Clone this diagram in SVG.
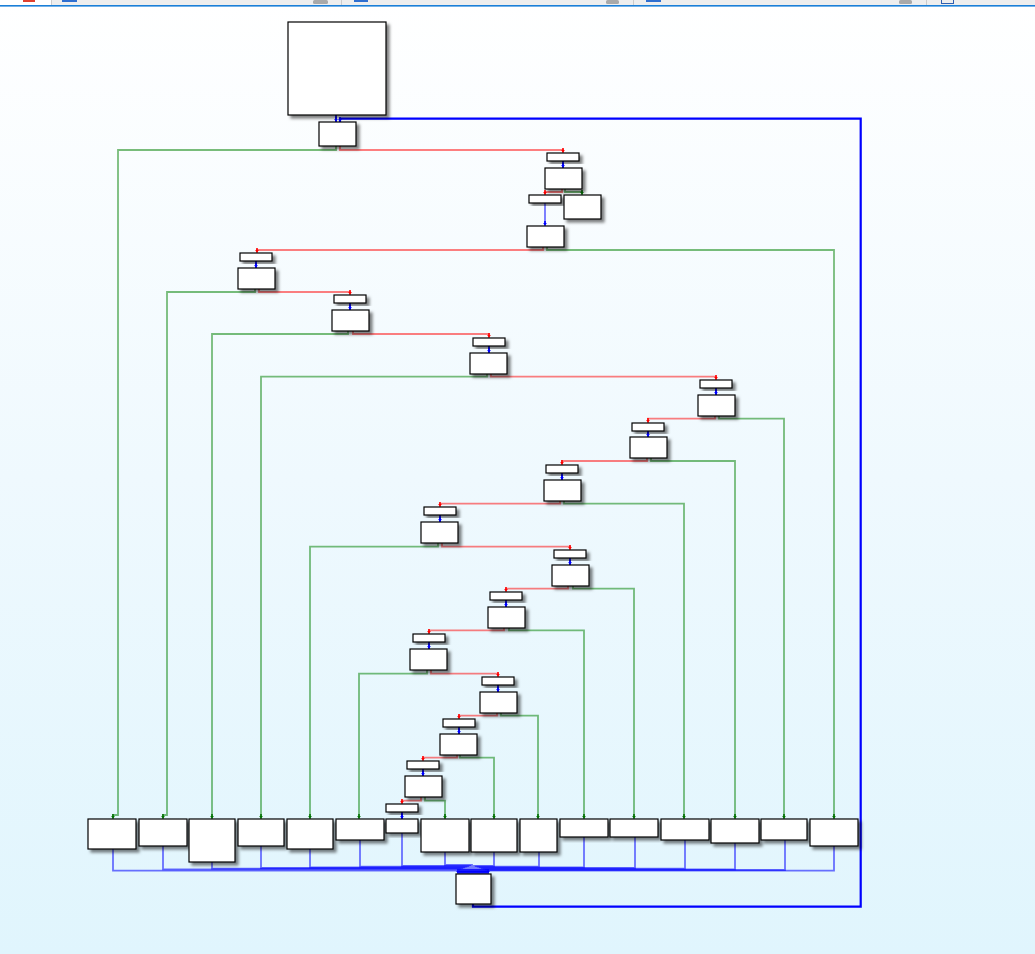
<svg xmlns="http://www.w3.org/2000/svg" width="1035" height="954" viewBox="0 0 1035 954">
<style>
.n{fill:#fff;stroke:#000;stroke-width:1.2;filter:url(#sh)}
.e{fill:none;stroke-width:1.8;stroke-linejoin:miter}
.g{stroke:#008000;stroke-opacity:0.52;marker-end:url(#ag)}
.r{stroke:#ff0000;stroke-opacity:0.5;marker-end:url(#ar)}
.b{stroke:#0000ff;stroke-opacity:0.55;marker-end:url(#ab)}
.bs{stroke:#0000ff;marker-end:url(#ab)}
.loop{stroke:#0000ff;stroke-width:2.2;marker-end:url(#ab)}
</style>
<defs>
<linearGradient id="bg" x1="0" y1="0" x2="0" y2="1">
<stop offset="0" stop-color="#ffffff"/>
<stop offset="0.5" stop-color="#eff9fe"/>
<stop offset="1" stop-color="#e0f5fd"/>
</linearGradient>
<filter id="sh" x="-20%" y="-20%" width="150%" height="150%">
<feDropShadow dx="3" dy="3" stdDeviation="1.5" flood-color="#000" flood-opacity="0.5"/>
</filter>
<marker id="ag" markerUnits="userSpaceOnUse" viewBox="-6 -3 7 6" refX="0" refY="0" markerWidth="7" markerHeight="6" orient="auto" overflow="visible"><path d="M-5,-0.8 H-3 V-1.8 L0,0 L-3,1.8 V0.8 H-5 Z" fill="#007000"/></marker>
<marker id="ar" markerUnits="userSpaceOnUse" viewBox="-6 -3 7 6" refX="0" refY="0" markerWidth="7" markerHeight="6" orient="auto" overflow="visible"><path d="M-5,-0.8 H-3 V-1.8 L0,0 L-3,1.8 V0.8 H-5 Z" fill="#ff0000"/></marker>
<marker id="ab" markerUnits="userSpaceOnUse" viewBox="-6 -3 7 6" refX="0" refY="0" markerWidth="7" markerHeight="6" orient="auto" overflow="visible"><path d="M-5,-0.8 H-3 V-1.8 L0,0 L-3,1.8 V0.8 H-5 Z" fill="#0000ff"/></marker>
</defs>
<rect x="0" y="0" width="1035" height="954" fill="url(#bg)"/>
<g id="tabbar">
<rect x="0" y="0" width="1035" height="5.5" fill="#eeeeee"/>
<rect x="0" y="0" width="51" height="5.5" fill="#ffffff"/>
<rect x="0" y="5" width="1035" height="1.6" fill="#1a7fd8"/>
<rect x="51" y="0" width="1" height="5" fill="#cccccc"/>
<rect x="341" y="0" width="1" height="5" fill="#cccccc"/>
<rect x="633" y="0" width="1" height="5" fill="#cccccc"/>
<rect x="926" y="0" width="1" height="5" fill="#cccccc"/>
<rect x="23" y="0" width="12" height="2" fill="#e0402f"/>
<rect x="62" y="0" width="15" height="2" fill="#2f6fd0"/>
<rect x="354" y="0" width="14" height="2" fill="#2f6fd0"/>
<rect x="646" y="0" width="15" height="2" fill="#2f6fd0"/>
<rect x="313" y="0" width="15" height="4" rx="1.5" fill="#a9a9a9"/>
<rect x="606" y="0" width="13" height="4" rx="1.5" fill="#a9a9a9"/>
<rect x="899" y="0" width="13" height="4" rx="1.5" fill="#a9a9a9"/>
<rect x="941.5" y="-1" width="12" height="4.5" fill="none" stroke="#2f5fb0" stroke-width="1"/>
</g>
<g id="connectors">
<path class="e bs" d="M336,115 V122"/>
<path class="e loop" d="M473,904 V906.7 H860.7 V118.7 H340 V122"/>
<path class="e g" d="M336,146 V150 H118 V815 H113 V819"/>
<path class="e r" d="M340,146 V150 H563 V153"/>
<path class="e g" d="M565,189 V192 H582 V195"/>
<path class="e r" d="M562,189 V192 H545 V195"/>
<path class="e g" d="M547,247 V250 H834 V819"/>
<path class="e r" d="M543,247 V250 H257 V253"/>
<path class="e g" d="M255,289 V292 H167 V815 H163 V819"/>
<path class="e r" d="M259,289 V292 H350 V295"/>
<path class="e g" d="M348,331 V334 H212 V819"/>
<path class="e r" d="M353,331 V334 H489 V338"/>
<path class="e g" d="M487,374 V376.7 H261 V819"/>
<path class="e r" d="M491,374 V376.7 H716 V380"/>
<path class="e g" d="M719,416 V418.7 H784 V819"/>
<path class="e r" d="M715,416 V418.7 H648 V423"/>
<path class="e g" d="M651,458 V461 H735 V819"/>
<path class="e r" d="M647,458 V461 H562 V465"/>
<path class="e g" d="M564,501 V503.7 H684 V819"/>
<path class="e r" d="M560,501 V503.7 H440 V507"/>
<path class="e g" d="M438,543 V546.7 H310 V819"/>
<path class="e r" d="M442,543 V546.7 H570 V550"/>
<path class="e g" d="M573,586 V588.7 H634 V819"/>
<path class="e r" d="M568,586 V588.7 H506 V592"/>
<path class="e g" d="M509,628 V630.3 H584 V819"/>
<path class="e r" d="M504,628 V630.3 H429 V634"/>
<path class="e g" d="M427,670 V673.7 H359 V819"/>
<path class="e r" d="M431,670 V673.7 H498 V677"/>
<path class="e g" d="M501,713 V715.7 H538 V819"/>
<path class="e r" d="M497,713 V715.7 H459 V719"/>
<path class="e g" d="M460,755 V757.7 H494 V819"/>
<path class="e r" d="M457,755 V757.7 H423 V761"/>
<path class="e g" d="M425,797 V800.7 H445 V819"/>
<path class="e r" d="M421,797 V800.7 H402 V804"/>
<path class="e bs" d="M563,161 V168"/>
<path class="e b" d="M545,203 V226"/>
<path class="e bs" d="M256,261 V268"/>
<path class="e bs" d="M350,303 V310"/>
<path class="e bs" d="M489,346 V353"/>
<path class="e bs" d="M716,388 V395"/>
<path class="e bs" d="M648,431 V437"/>
<path class="e bs" d="M562,473 V480"/>
<path class="e bs" d="M440,515 V522"/>
<path class="e bs" d="M570,558 V565"/>
<path class="e bs" d="M506,600 V607"/>
<path class="e bs" d="M429,642 V649"/>
<path class="e bs" d="M498,685 V692"/>
<path class="e bs" d="M459,727 V734"/>
<path class="e bs" d="M423,769 V776"/>
<path class="e bs" d="M402,812 V819"/>
<path class="e b" d="M113,849 V870.7 H458 V874"/>
<path class="e b" d="M163,846 V869.3 H460 V874"/>
<path class="e b" d="M212,862 V868.7 H462 V874"/>
<path class="e b" d="M261,846 V868 H464 V874"/>
<path class="e b" d="M310,849 V867.3 H466 V874"/>
<path class="e b" d="M360,840 V866.7 H468 V874"/>
<path class="e b" d="M402,833 V866 H470 V874"/>
<path class="e b" d="M445,852 V865 H472 V874"/>
<path class="e b" d="M494,852 V866 H474 V874"/>
<path class="e b" d="M539,852 V866.7 H476 V874"/>
<path class="e b" d="M584,837 V867.3 H478 V874"/>
<path class="e b" d="M635,837 V868 H480 V874"/>
<path class="e b" d="M685,840 V868.7 H482 V874"/>
<path class="e b" d="M735,843 V869.3 H484 V874"/>
<path class="e b" d="M785,840 V870 H486 V874"/>
<path class="e b" d="M834,846 V870.7 H488 V874"/>
</g>
<g id="n1"><rect class="n" x="288" y="22" width="98" height="93"/></g>
<g id="n2"><rect class="n" x="319" y="122" width="37" height="24"/></g>
<g id="sa"><rect class="n" x="547" y="153" width="32" height="8"/></g>
<g id="ma"><rect class="n" x="545" y="168" width="37" height="21"/></g>
<g id="sb"><rect class="n" x="529" y="195" width="32" height="8"/></g>
<g id="rb"><rect class="n" x="564" y="195" width="37" height="24"/></g>
<g id="mb"><rect class="n" x="527" y="226" width="37" height="21"/></g>
<g id="sc"><rect class="n" x="240" y="253" width="32" height="8"/></g>
<g id="mc"><rect class="n" x="238" y="268" width="37" height="21"/></g>
<g id="sd"><rect class="n" x="334" y="295" width="32" height="8"/></g>
<g id="md"><rect class="n" x="332" y="310" width="37" height="21"/></g>
<g id="se"><rect class="n" x="473" y="338" width="32" height="8"/></g>
<g id="me"><rect class="n" x="470" y="353" width="37" height="21"/></g>
<g id="sf"><rect class="n" x="700" y="380" width="32" height="8"/></g>
<g id="mf"><rect class="n" x="698" y="395" width="37" height="21"/></g>
<g id="sg"><rect class="n" x="632" y="423" width="32" height="8"/></g>
<g id="mg"><rect class="n" x="630" y="437" width="37" height="21"/></g>
<g id="sh1"><rect class="n" x="546" y="465" width="32" height="8"/></g>
<g id="mh"><rect class="n" x="544" y="480" width="37" height="21"/></g>
<g id="si"><rect class="n" x="424" y="507" width="32" height="8"/></g>
<g id="mi"><rect class="n" x="421" y="522" width="37" height="21"/></g>
<g id="sj"><rect class="n" x="554" y="550" width="32" height="8"/></g>
<g id="mj"><rect class="n" x="552" y="565" width="37" height="21"/></g>
<g id="sk"><rect class="n" x="490" y="592" width="32" height="8"/></g>
<g id="mk"><rect class="n" x="488" y="607" width="37" height="21"/></g>
<g id="sl"><rect class="n" x="413" y="634" width="32" height="8"/></g>
<g id="ml"><rect class="n" x="410" y="649" width="37" height="21"/></g>
<g id="sm"><rect class="n" x="482" y="677" width="32" height="8"/></g>
<g id="mm"><rect class="n" x="480" y="692" width="37" height="21"/></g>
<g id="sn"><rect class="n" x="443" y="719" width="32" height="8"/></g>
<g id="mn"><rect class="n" x="440" y="734" width="37" height="21"/></g>
<g id="so"><rect class="n" x="407" y="761" width="32" height="8"/></g>
<g id="mo"><rect class="n" x="405" y="776" width="37" height="21"/></g>
<g id="sp"><rect class="n" x="386" y="804" width="32" height="8"/></g>
<g id="b1"><rect class="n" x="88" y="819" width="48" height="30"/></g>
<g id="b2"><rect class="n" x="139" y="819" width="48" height="27"/></g>
<g id="b3"><rect class="n" x="189" y="819" width="46" height="43"/></g>
<g id="b4"><rect class="n" x="238" y="819" width="46" height="27"/></g>
<g id="b5"><rect class="n" x="287" y="819" width="46" height="30"/></g>
<g id="b6"><rect class="n" x="336" y="819" width="48" height="21"/></g>
<g id="b7"><rect class="n" x="386" y="819" width="32" height="14"/></g>
<g id="b8"><rect class="n" x="421" y="819" width="48" height="33"/></g>
<g id="b9"><rect class="n" x="471" y="819" width="46" height="33"/></g>
<g id="b10"><rect class="n" x="520" y="819" width="37" height="33"/></g>
<g id="b11"><rect class="n" x="560" y="819" width="48" height="18"/></g>
<g id="b12"><rect class="n" x="610" y="819" width="48" height="18"/></g>
<g id="b13"><rect class="n" x="661" y="819" width="48" height="21"/></g>
<g id="b14"><rect class="n" x="711" y="819" width="48" height="24"/></g>
<g id="b15"><rect class="n" x="761" y="819" width="46" height="21"/></g>
<g id="b16"><rect class="n" x="810" y="819" width="48" height="27"/></g>
<g id="end"><rect class="n" x="456" y="874" width="35" height="30"/></g>
</svg>
